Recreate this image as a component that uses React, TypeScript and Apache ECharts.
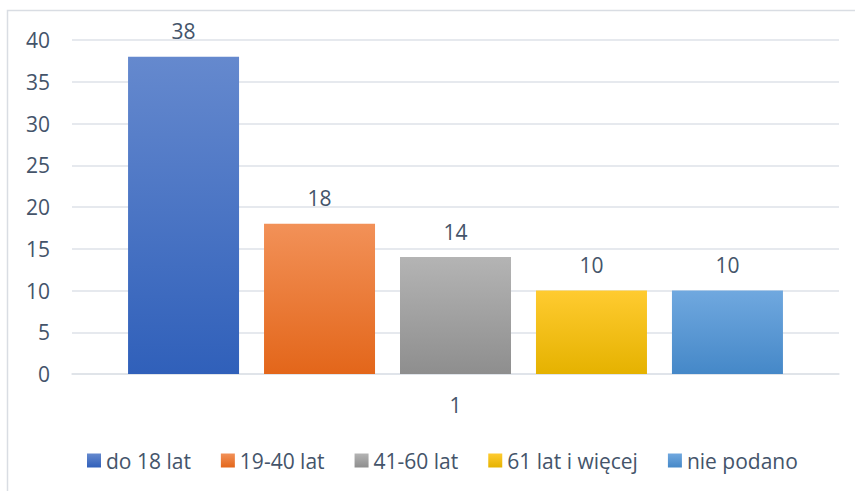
import React, { useEffect, useRef } from "react";
import * as echarts from "echarts";

const categories = ["1"];
const seriesNames = ["do 18 lat", "19-40 lat", "41-60 lat", "61 lat i więcej", "nie podano"];
const seriesValues = [38, 18, 14, 10, 10];
const yTicks = { min: 0, max: 40, interval: 5 };
const topColors = ["#6589CE", "#F29158", "#B4B4B4", "#FFCB30", "#70A8DF"];
const bottomColors = ["#3060BA", "#E3661A", "#8E8E8E", "#E5B200", "#4588C8"];

const FONT = "'Open Sans', sans-serif";
const TEXT = "#44546A";
const GRID = "#DEE2E8";

export default function App() {
  const ref = useRef<HTMLDivElement>(null);
  useEffect(() => {
    const chart = echarts.init(ref.current!, null, { renderer: "svg" });
    const grad = (i: number) =>
      new echarts.graphic.LinearGradient(0, 0, 0, 1, [
        { offset: 0, color: topColors[i] },
        { offset: 1, color: bottomColors[i] },
      ]);
    chart.setOption({
      animation: false,
      textStyle: { fontFamily: FONT },
      grid: { left: 72, right: 16, top: 40, bottom: 117 },
      graphic: [
        {
          type: "rect",
          shape: { x: 7.5, y: 10.5, width: 900, height: 500 },
          style: { fill: "none", stroke: "#D9DDE3", lineWidth: 1.5 },
          silent: true,
        },
      ],
      legend: {
        left: 87,
        top: 450,
        padding: 0,
        itemWidth: 14,
        itemHeight: 14,
        itemGap: 30,
        icon: "rect",
        textStyle: { color: TEXT, fontSize: 21, fontFamily: FONT },
        data: seriesNames,
      },
      xAxis: {
        type: "category",
        data: categories,
        axisLine: { show: true, lineStyle: { color: GRID, width: 1.5 } },
        axisTick: { show: false },
        axisLabel: { color: TEXT, fontSize: 21, fontFamily: FONT, margin: 20 },
      },
      yAxis: {
        type: "value",
        min: yTicks.min,
        max: yTicks.max,
        interval: yTicks.interval,
        axisLine: { show: false },
        axisTick: { show: false },
        splitLine: { lineStyle: { color: GRID, width: 1.5 } },
        axisLabel: { color: TEXT, fontSize: 21, fontFamily: FONT, margin: 22 },
      },
      series: seriesNames.map((name, i) => ({
        name,
        type: "bar",
        data: [seriesValues[i]],
        barWidth: 111,
        barGap: "22.5%",
        itemStyle: { color: grad(i) },
        label: {
          show: true,
          position: "top",
          distance: 15,
          color: TEXT,
          fontSize: 21,
          fontFamily: FONT,
        },
      })),
    });
    return () => chart.dispose();
  }, []);
  return (
    <div
      ref={ref}
      style={{ position: "fixed", left: 0, top: 0, width: 855, height: 491, background: "#fff" }}
    />
  );
}
